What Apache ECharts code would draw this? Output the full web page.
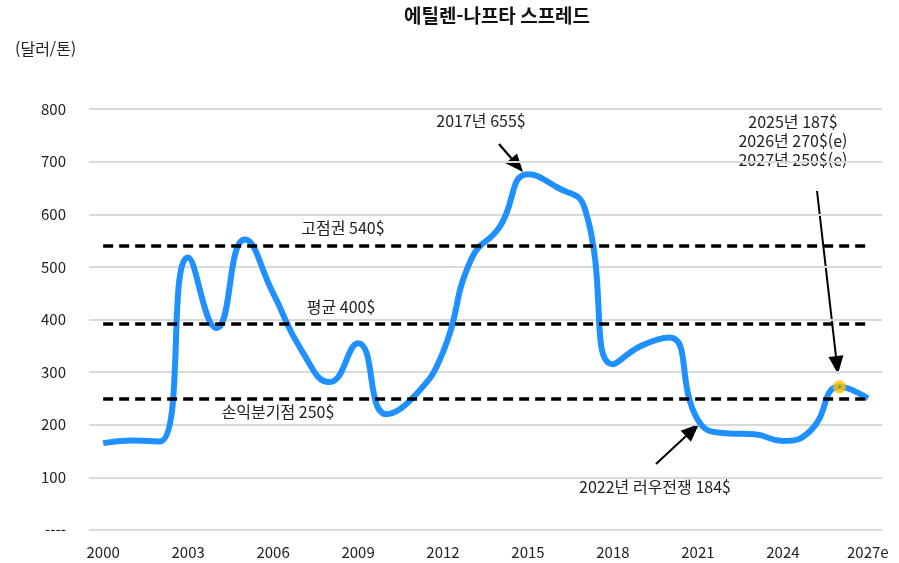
<!DOCTYPE html>
<html lang="ko">
<head>
    <meta charset="UTF-8">
    <title>에틸렌-나프타 스프레드</title>
    <script src="https://cdn.jsdelivr.net/npm/echarts@6/dist/echarts.min.js"></script>
    <style>
        html, body { margin: 0; padding: 0; background: #fff; }
        #main { width: 899px; height: 563px; }
    </style>
</head>
<body>
<div id="main"></div>
<script type="text/javascript">
    // 연도 (x축)
    const years = ['2000', '2001', '2002', '2003', '2004', '2005', '2006', '2007', '2008', '2009',
        '2010', '2011', '2012', '2013', '2014', '2015', '2016', '2017', '2018', '2019',
        '2020', '2021', '2022', '2023', '2024', '2025', '2026', '2027e']
    // 스프레드 (달러/톤), 그림에서 읽은 값
    const spread = [165, 170, 168, 518, 384, 552, 450, 342, 281, 355,
        220, 255, 338, 515, 576, 676, 652, 612, 315, 350,
        366, 209, 184, 182, 169, 190, 272, 250]
    // 기준선
    const levelValues = [540, 392, 250]
    const levelLabels = ['고점권 540$', '평균 400$', '손익분기점 250$']
    const highlightIndex = 26

    const font = '"Noto Sans CJK KR", "Noto Sans", sans-serif'

    function arrow(x1, y1, x2, y2, w) {
        const dx = x2 - x1, dy = y2 - y1
        const len = Math.hypot(dx, dy)
        const ux = dx / len, uy = dy / len
        const hl = 18, hw = 7.5
        const bx = x2 - ux * hl, by = y2 - uy * hl
        return [
            {type: 'line', shape: {x1: x1, y1: y1, x2: bx, y2: by}, style: {stroke: '#000', lineWidth: w || 2}},
            {type: 'polygon', shape: {points: [[x2, y2], [bx - uy * hw, by + ux * hw], [bx + uy * hw, by - ux * hw]]},
                style: {fill: '#000'}}
        ]
    }

    function label(text, x, y) {
        return {
            type: 'text', x: x, y: y,
            style: {text: text, font: '16px ' + font, fill: '#222', align: 'center', verticalAlign: 'middle', lineHeight: 19}
        }
    }

    const chart = echarts.init(document.getElementById('main'))
    chart.setOption({
        animation: false,
        backgroundColor: '#fff',
        grid: {left: 89, right: 17, top: 109, bottom: 33},
        xAxis: {
            type: 'category',
            data: years,
            boundaryGap: true,
            axisLine: {show: false},
            axisTick: {show: false},
            axisLabel: {interval: 2, fontFamily: font, fontSize: 15, color: '#222', margin: 15}
        },
        yAxis: {
            type: 'value',
            min: 0, max: 800, interval: 100,
            name: '(달러/톤)',
            nameLocation: 'end',
            nameGap: 52,
            nameTextStyle: {fontFamily: font, fontSize: 16, color: '#222', align: 'left', padding: [0, 0, 0, -74]},
            axisLine: {show: false},
            axisTick: {show: false},
            splitLine: {lineStyle: {color: '#d9d9d9', width: 2}},
            axisLabel: {
                fontFamily: font, fontSize: 15, color: '#222', margin: 23,
                formatter: function (v) { return v === 0 ? '----' : v }
            }
        },
        series: [
            {
                type: 'line',
                data: spread,
                smooth: true,
                symbol: 'none',
                lineStyle: {color: '#1E90FF', width: 6},
                z: 2,
                markLine: {
                    silent: true,
                    symbol: ['none', 'none'],
                    label: {show: false},
                    lineStyle: {color: '#000', width: 3.5, type: [10, 6]},
                    data: levelValues.map(v => [
                        {coord: [years[0], v]},
                        {coord: [years[years.length - 1], v]}
                    ])
                }
            },
            {
                type: 'scatter',
                data: [[years[highlightIndex], spread[highlightIndex]]],
                symbolSize: 13,
                itemStyle: {color: '#FFC000'},
                z: 5
            },
            {
                type: 'scatter',
                data: [[years[highlightIndex], spread[highlightIndex]]],
                symbolSize: 3,
                itemStyle: {color: '#7f8c1f'},
                z: 6
            }
        ],
        graphic: [
            {
                type: 'text', x: 497, y: 16,
                style: {text: '에틸렌-나프타 스프레드', font: 'bold 19px ' + font, fill: '#111', align: 'center', verticalAlign: 'middle'}
            },
            label(levelLabels[0], 343, 228),
            label(levelLabels[1], 341, 307),
            label(levelLabels[2], 278, 412),
            label('2017년 655$', 481, 121),
            label('2025년 187$\n2026년 270$(e)\n2027년 250$(e)', 793, 141),
            label('2022년 러우전쟁 184$', 655, 487),
            ...arrow(499, 144, 523, 172, 2.2),
            ...arrow(656, 464, 699, 424, 2),
            ...arrow(817, 191, 838, 374, 2)
        ]
    })
</script>
</body>
</html>
